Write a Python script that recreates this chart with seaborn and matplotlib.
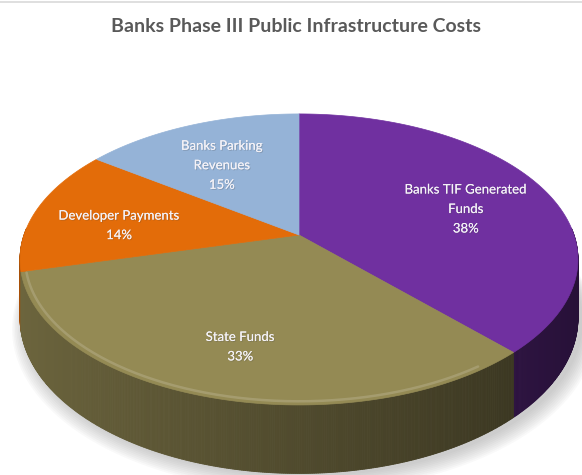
import numpy as np
import matplotlib
matplotlib.use("Agg")
import matplotlib.pyplot as plt
import matplotlib.patheffects as pe
from matplotlib.lines import Line2D
import seaborn as sns

# Funding sources and their shares (percent)
categories = ["Banks TIF Generated\nFunds", "State Funds",
              "Developer Payments", "Banks Parking\nRevenues"]
shares = [38, 33, 14, 15]
slice_colors = ["#7030A0", "#948A54", "#E36C09", "#95B3D7"]
title_text = "Banks Phase III Public Infrastructure Costs"

sns.set_theme(style="white")
plt.rcParams["font.family"] = ["Lato", "DejaVu Sans"]

fig = plt.figure(figsize=(5.82, 4.75), dpi=100)
fig.patch.set_facecolor("white")
ax = fig.add_axes([0, 0, 1, 1])
ax.set_xlim(0, 582)
ax.set_ylim(475, 0)
ax.axis("off")

# disc seen in perspective: screen scale A/B, foreshortening k, thickness D
cx, cy, A, B, k, D = 299, 235, 275, 141.4, 0.168, 57
palette = sns.color_palette(slice_colors)

vals = np.asarray(shares, dtype=float)
fracs = vals / vals.sum()
ends = 90 - 360 * np.cumsum(fracs)
starts = np.r_[90, ends[:-1]]


def project(t, r=1.0, drop=0.0):
    """Screen position of polar point (angle t deg, radius r) on the disc."""
    a = np.radians(t)
    u, v = r * np.cos(a), r * np.sin(a)
    w = 1 + k * v
    return cx + A * u / w, cy - B * v / w + drop / w


# soft drop shadow under the disc
g = np.linspace(0, 360, 240)
for i in range(10):
    sx, sy = project(g, 1.0 + i * 0.005, D)
    ax.fill(sx + 5, sy + 3 + i * 0.6, color="#7f7f7f", alpha=0.045, lw=0, zorder=1)

# side walls, shaded from light (left) to dark (right), painted back to front
strips = []
for s, e, col in zip(starts, ends, palette):
    ts = np.linspace(e, s, max(int((s - e) * 3), 4))
    for t0, t1 in zip(ts[:-1], ts[1:]):
        tm = 0.5 * (t0 + t1)
        if np.sin(np.radians(tm)) > 0.05:
            continue
        f = 0.54 - 0.2 * np.cos(np.radians(tm))
        c = tuple(np.clip(np.array(col) * f, 0, 1))
        strips.append((np.sin(np.radians(tm)), t0, t1, c))
for _, t0, t1, c in sorted(strips, key=lambda q: -q[0]):
    x0, y0 = project(t0)
    x1, y1 = project(t1)
    _, b0 = project(t0, drop=D)
    _, b1 = project(t1, drop=D)
    ax.fill([x0, x1, x1, x0], [y0, y1, b1, b0], color=c, lw=0.6, ec=c, zorder=2)

# top faces
for s, e, col in zip(starts, ends, palette):
    ts = np.linspace(e, s, 200)
    px, py = project(ts)
    ax.fill(np.r_[cx, px], np.r_[cy, py], color=col, lw=0.5, ec=col, zorder=3)

# bevel highlight along the front rim
hx, hy = project(np.linspace(-165, -55, 160), 0.982)
ax.plot(hx, hy, color="white", alpha=0.16, lw=1.8, zorder=4,
        solid_capstyle="round")

# slice labels
for s, e, lab, v in zip(starts, ends, categories, vals):
    lx, ly = project(0.5 * (s + e), 0.68)
    txt = ax.text(lx, ly + 8, f"{lab}\n{v:.0f}%", ha="center", va="center",
                  color="#f4f2f7", fontsize=9.5, linespacing=1.75, zorder=5)
    txt.set_path_effects([pe.withSimplePatchShadow(offset=(0.7, -0.7), alpha=0.25),
                          pe.Normal()])

ax.text(296, 26, title_text, ha="center", va="center", fontsize=14,
        fontweight="bold", color="#595959", zorder=5)

fig.add_artist(Line2D([0, 1], [0.996, 0.996], color="#d9d9d9", lw=1.2))

fig.savefig("out.png", dpi=100, facecolor="white")
